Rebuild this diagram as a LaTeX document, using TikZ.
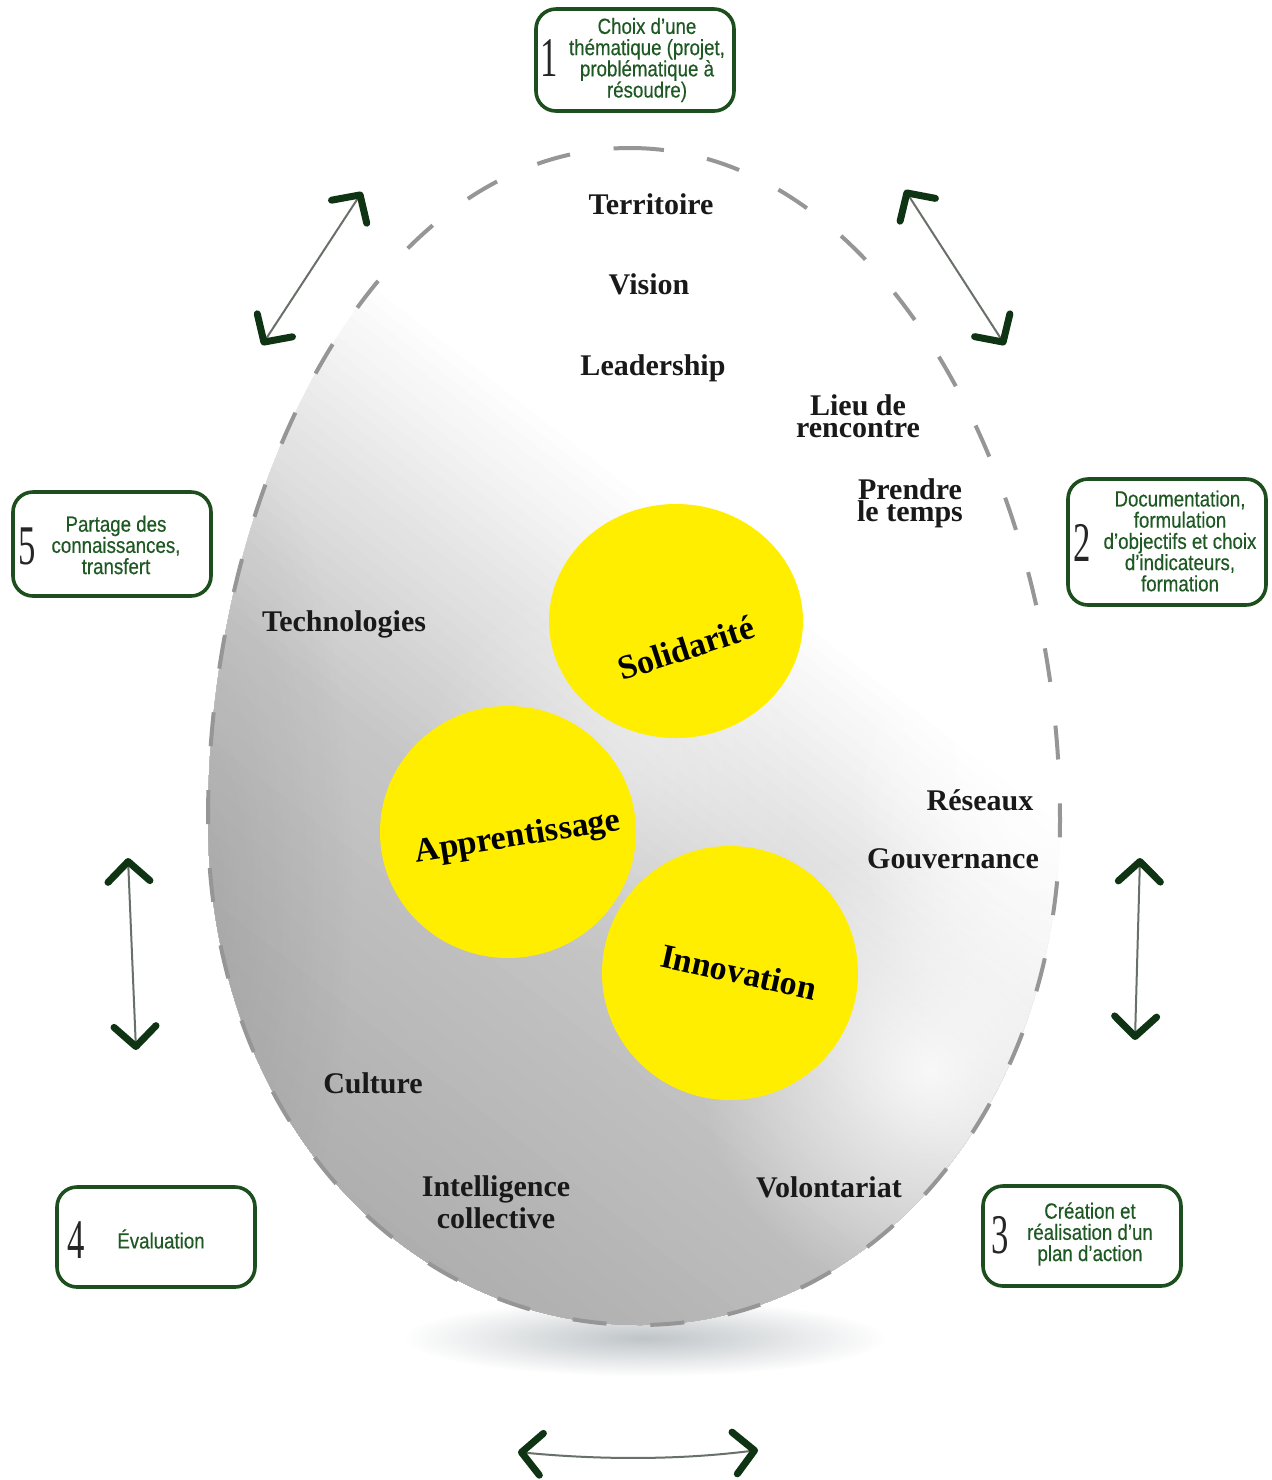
\documentclass[tikz,border=0pt]{standalone}
\usepackage{fontspec}
\setmainfont{Liberation Serif}
\newfontfamily\boxfont[FakeStretch=0.85,FakeBold=0.4]{Liberation Sans}
\newfontfamily\numfont[FakeStretch=0.62]{Liberation Serif}
\usetikzlibrary{arrows.meta,fadings,shapes.geometric}
\definecolor{boxgreen}{RGB}{28,78,30}
\definecolor{txtgreen}{RGB}{30,88,35}
\definecolor{arrowgreen}{RGB}{14,52,20}
\definecolor{shaftgray}{RGB}{105,112,105}
\definecolor{eggyellow}{RGB}{255,238,0}
\definecolor{egggray}{RGB}{198,198,198}
\definecolor{egggraydark}{RGB}{170,170,170}
\definecolor{dashgray}{RGB}{150,150,150}
\definecolor{shadowc}{RGB}{175,182,186}
\tikzfading[name=softblob, inner color=transparent!0, outer color=transparent!100]
\tikzset{
  stepbox/.style={draw=boxgreen, line width=1.8pt, rounded corners=10pt, fill=white, inner sep=0pt},
  numstyle/.style={font=\numfont\fontsize{28}{28}\selectfont, text=black!85, inner sep=0pt},
  boxtext/.style={font=\boxfont\fontsize{11}{10.6}\selectfont, text=txtgreen, align=center, inner sep=0pt},
  egglabel/.style={font=\bfseries\fontsize{15}{11}\selectfont, text=black!90, align=center, inner sep=0pt},
  circlabel/.style={font=\bfseries\fontsize{17}{17}\selectfont, text=black, inner sep=0pt},
  bigcirc/.style={ellipse, fill=eggyellow, inner sep=0pt},
  dbl/.style={draw=shaftgray, line width=1pt,
    >={Straight Barb[length=10pt, width=21pt, line width=3.5pt, color=arrowgreen, round]}, <->},
}
\def\eggpath{(630,148) .. controls (880,148) and (1060,480) .. (1060,820)
  .. controls (1060,1110) and (870,1325) .. (640,1325)
  .. controls (400,1325) and (208,1110) .. (208,820)
  .. controls (208,480) and (380,148) .. (630,148) -- cycle}
\begin{document}
\begin{tikzpicture}[x=0.5pt,y=-0.5pt]
\fill[white] (0,0) rectangle (1272,1480);
\useasboundingbox (0,0) rectangle (1272,1480);
% shadow
\fill[shadowc, path fading=softblob, opacity=0.8] (645,1338) ellipse (240 and 38);
% egg body
\begin{scope}
  \clip \eggpath;
  \begin{scope}[shift={(640,735)}, rotate=232]
    \fill[white] (-1300,-1300) rectangle (1300,1300);
    \foreach \i in {0,...,30} {
      \pgfmathsetmacro\pc{100-100*\i/30}
      \fill[white!\pc!egggray] ({-200+12*\i},-1300) rectangle (1300,1300);
    }
    \foreach \i in {1,...,25} {
      \pgfmathsetmacro\pc{100-100*\i/25}
      \fill[egggray!\pc!egggraydark] ({160+18*\i},-1300) rectangle (1300,1300);
    }
  \end{scope}
  \fill[white, path fading=softblob, opacity=0.9] (1040,760) ellipse (190 and 330);
  \fill[white, path fading=softblob, opacity=0.85] (930,1070) circle (230);
  \fill[white, path fading=softblob, opacity=0.3] (620,760) circle (200);
  \fill[black, path fading=softblob, opacity=0.08] (205,880) ellipse (150 and 480);
\end{scope}
\draw[dashgray, line width=2pt, dash pattern=on 17pt off 22pt] \eggpath;
% yellow circles
\node[bigcirc, minimum width=127pt, minimum height=117pt] (sol) at (676,621) {};
\node[bigcirc, minimum width=128pt, minimum height=126pt] (app) at (508,832) {};
\node[bigcirc, minimum width=128pt, minimum height=127pt] (inn) at (730,973) {};
\node[circlabel, rotate=18] (solt) at (686,648) {Solidarité};
\node[circlabel, rotate=9] (appt) at (518,838) {Apprentissage};
\node[circlabel, rotate=-12.5] (innt) at (739,972) {Innovation};
% egg labels
\node[egglabel] (l1) at (651,204) {Territoire};
\node[egglabel] (l2) at (649,284) {Vision};
\node[egglabel] (l3) at (653,368) {Leadership};
\node[egglabel] (l4) at (858,416) {Lieu de\\rencontre};
\node[egglabel] (l5) at (910,503) {Prendre\\le temps};
\node[egglabel] (l6) at (344,624) {Technologies};
\node[egglabel] (l7) at (980,800) {Réseaux};
\node[egglabel] (l8) at (953,859) {Gouvernance};
\node[egglabel] (l9) at (373,1083) {Culture};
\node[egglabel, font=\bfseries\fontsize{15}{16}\selectfont] (l10) at (496,1202) {Intelligence\\collective};
\node[egglabel] (l11) at (829,1187) {Volontariat};
% boxes
\node[stepbox, minimum width=99pt, minimum height=51pt] (b1) at (635,60) {};
\node[numstyle] (n1) at (549,58) {1};
\node[boxtext] (t1) at (647,60) {Choix d’une\\thématique (projet,\\problématique à\\résoudre)};
\node[stepbox, minimum width=99pt, minimum height=63pt] (b2) at (1167,542) {};
\node[numstyle] (n2) at (1082,543) {2};
\node[boxtext] (t2) at (1180,541) {Documentation,\\formulation\\d’objectifs et choix\\d’indicateurs,\\formation};
\node[stepbox, minimum width=99pt, minimum height=50pt] (b3) at (1082,1236) {};
\node[numstyle] (n3) at (1000,1235) {3};
\node[boxtext] (t3) at (1090,1234) {Création et\\réalisation d’un\\plan d’action};
\node[stepbox, minimum width=99pt, minimum height=50pt] (b4) at (156,1237) {};
\node[numstyle] (n4) at (76,1240) {4};
\node[boxtext] (t4) at (161,1239) {Évaluation};
\node[stepbox, minimum width=99pt, minimum height=52pt] (b5) at (112,544) {};
\node[numstyle] (n5) at (27,546) {5};
\node[boxtext] (t5) at (116,545) {Partage des\\connaissances,\\transfert};
% arrows
\coordinate (a1s) at (262,345); \coordinate (a1e) at (362,192);
\coordinate (a2s) at (905,190); \coordinate (a2e) at (1005,345);
\coordinate (a3s) at (1140,858); \coordinate (a3e) at (1135,1040);
\coordinate (a4s) at (128,858); \coordinate (a4e) at (136,1050);
\coordinate (a5s) at (518,1452); \coordinate (a5e) at (758,1450);
\draw[dbl] (a1s) -- (a1e);
\draw[dbl] (a2s) -- (a2e);
\draw[dbl] (a3s) -- (a3e);
\draw[dbl] (a4s) -- (a4e);
\draw[dbl] (a5s) .. controls (600,1460) and (680,1460) .. (a5e);
\end{tikzpicture}
\end{document}
